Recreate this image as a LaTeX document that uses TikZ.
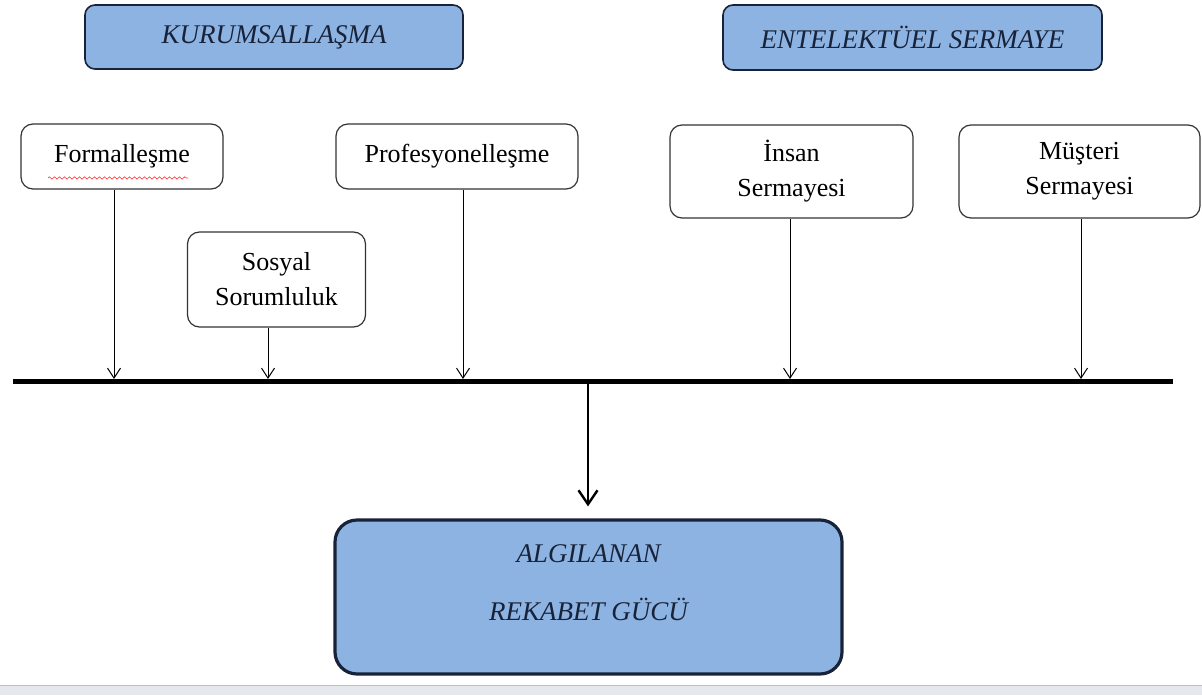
\documentclass[tikz,border=0pt]{standalone}
\usepackage{fontspec}
\setmainfont{Liberation Serif}
\usepackage{xcolor}
\usetikzlibrary{arrows.meta, decorations.pathmorphing}
\definecolor{boxblue}{RGB}{141,179,226}
\definecolor{navy}{RGB}{24,34,56}
\definecolor{bandgray}{RGB}{229,231,237}

\begin{document}
\begin{tikzpicture}[x=0.5pt, y=-0.5pt, align=center,
  head/.style={draw=navy, line width=0.8pt, fill=boxblue, rounded corners=5pt, text=navy, font=\fontsize{13.5}{16}\selectfont\itshape},
  box/.style={draw=black!80, line width=0.6pt, rounded corners=6pt, inner sep=0pt, font=\fontsize{13}{17.5}\selectfont},
  goal/.style={draw=navy, line width=1.6pt, fill=boxblue, rounded corners=11pt},
  goaltext/.style={text=navy, font=\fontsize{13.5}{29}\selectfont\itshape},
  link/.style={-{Straight Barb[length=5pt,width=6.5pt]}, line width=0.5pt},
  mainlink/.style={-{Straight Barb[length=7pt,width=9.5pt,line width=1.2pt]}, line width=1.2pt, shorten >=6pt},
  bar/.style={line width=2.9pt}]
\useasboundingbox (0,0) rectangle (1202,695);
\fill[bandgray] (0,685) rectangle (1202,695);
\draw[black!25, line width=0.6pt] (0,685.5) -- (1202,685.5);
\node[head, minimum width=189pt, minimum height=32pt] at (274,37) (kur) {KURUMSALLAŞMA};
\node[head, minimum width=189.5pt, minimum height=32.5pt] at (912.5,37.5) (ent) {ENTELEKTÜEL SERMAYE};
\node[box, minimum width=101pt, minimum height=32.5pt] at (122,156.5) (form) {Formalleşme};
\node[box, minimum width=121pt, minimum height=32.5pt] at (457,156.5) (prof) {Profesyonelleşme};
\node[box, minimum width=89pt, minimum height=47.5pt] at (276.5,279.5) (sos) {Sosyal\\Sorumluluk};
\node[box, minimum width=121.5pt, minimum height=46.5pt] at (791.5,171.5) (ins) {İnsan\\Sermayesi};
\node[box, minimum width=120.5pt, minimum height=46.5pt] at (1079.5,171.5) (mus) {Müşteri\\Sermayesi};
\node[goal, minimum width=253.5pt, minimum height=77pt] at (588.5,597) (res) {};
\node[goaltext] at (588.5,583) (restext) {ALGILANAN\\REKABET GÜCÜ};
\draw[red!80, line width=0.3pt, decorate, decoration={snake, amplitude=0.6pt, segment length=2.5pt}] (48,178) -- (188,178);
\coordinate (barl) at (13,381.5);
\coordinate (barr) at (1173,381.5);
\coordinate (t1) at (114,379);
\coordinate (t2) at (268,379);
\coordinate (t3) at (463,379);
\coordinate (t4) at (790,379);
\coordinate (t5) at (1081,379);
\coordinate (mid) at (588,383);
\draw[bar] (barl) -- (barr);
\draw[link] (form.south -| t1) -- (t1);
\draw[link] (sos.south -| t2) -- (t2);
\draw[link] (prof.south -| t3) -- (t3);
\draw[link] (ins.south -| t4) -- (t4);
\draw[link] (mus.south -| t5) -- (t5);
\draw[mainlink] (mid) -- (res.north -| mid);
\end{tikzpicture}
\end{document}
